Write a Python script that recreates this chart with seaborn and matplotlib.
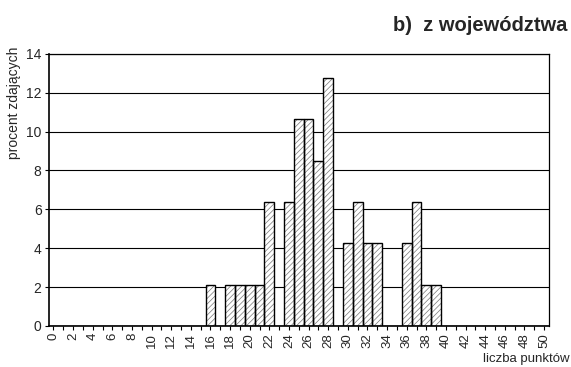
import numpy as np
import pandas as pd
import seaborn as sns
import matplotlib.pyplot as plt

# punkty 0..50, procent zdajacych (n=47)
punkty = list(range(0, 51))
procent = [0.0] * 51
wartosci = {16: 2.13, 18: 2.13, 19: 2.13, 20: 2.13, 21: 2.13, 22: 6.38,
            24: 6.38, 25: 10.64, 26: 10.64, 27: 8.51, 28: 12.77,
            30: 4.26, 31: 6.38, 32: 4.26, 33: 4.26,
            36: 4.26, 37: 6.38, 38: 2.13, 39: 2.13}
for k, v in wartosci.items():
    procent[k] = v
etykiety = [str(p) if p % 2 == 0 else "" for p in punkty]

df = pd.DataFrame({"punkty": punkty, "procent": procent})

sns.set_style("white")
plt.rcParams["font.family"] = ["Liberation Sans", "DejaVu Sans"]
plt.rcParams["hatch.linewidth"] = 0.5
plt.rcParams["hatch.color"] = "#777777"

fig = plt.figure(figsize=(5.71, 3.67), dpi=100)
ax = fig.add_axes([0.085, 0.112, 0.8765, 0.741])

# siatka pod slupkami
for y in range(2, 15, 2):
    ax.axhline(y, color="black", lw=0.8, zorder=0)

# wypelnienie kreskowane
sns.barplot(data=df, x="punkty", y="procent", width=1.0, color="white",
            edgecolor="#777777", linewidth=0, hatch="//////", ax=ax, zorder=2)
# obrys
sns.barplot(data=df, x="punkty", y="procent", width=1.0, fill=False,
            edgecolor="black", linewidth=1.0, ax=ax, zorder=3)

ax.set_xlim(-0.5, 50.5)
ax.set_ylim(0, 14)
ax.set_yticks(range(0, 15, 2))
ax.set_yticklabels([str(v) for v in range(0, 15, 2)], fontsize=10)
ax.set_xticks(range(len(punkty)))
ax.set_xticklabels(etykiety, rotation=90, fontsize=9.5)
ax.tick_params(axis="both", length=3, width=0.8, color="black", pad=2, direction="out")
ax.tick_params(axis="x", bottom=True)
ax.tick_params(axis="y", left=True)
ax.set_xlabel("")
ax.set_ylabel("")
for s in ax.spines.values():
    s.set_color("black")
    s.set_linewidth(0.9)
ax.spines["left"].set_linewidth(1.2)
ax.spines["bottom"].set_linewidth(1.2)

fig.text(0.993, 0.9155, "b)  z województwa", ha="right", va="baseline",
         fontsize=14.5, fontweight="bold")
fig.text(0.025, 0.872, "procent zdających", rotation=90, ha="center", va="top",
         fontsize=10)
fig.text(0.998, 0.022, "liczba punktów", ha="right", va="center", fontsize=9.5)

fig.savefig("out.png", dpi=100)
